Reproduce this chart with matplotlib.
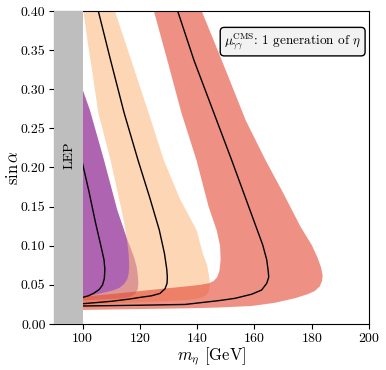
import matplotlib
matplotlib.use("Agg")
import matplotlib.pyplot as plt
from matplotlib.patches import Rectangle

plt.rcParams['font.family'] = 'serif'
plt.rcParams['font.serif'] = ['cmr10', 'DejaVu Serif']
plt.rcParams['mathtext.fontset'] = 'cm'
plt.rcParams['axes.formatter.use_mathtext'] = True
plt.rcParams['axes.unicode_minus'] = False

# ---- data (m_eta [GeV], sin alpha) ----
# purple band (outer boundary; inner boundary hidden below LEP)
p_out_m = [100, 110, 114.5, 117, 118.5, 119.3, 119.5, 119.3, 118.9, 118.0, 116.6, 115.9, 112.1, 107.5, 102.6, 100]
p_out_s = [0.030, 0.032, 0.033, 0.035, 0.039, 0.045, 0.052, 0.062, 0.073, 0.085, 0.099, 0.105, 0.146, 0.2095, 0.273, 0.300]

# peach band
q_in_m = [100, 105, 108.5, 110.7, 112.8, 114.5, 115.6, 116.1, 116.3, 116.1, 115.6, 114.8, 113.6, 109.8, 105.5, 103.5, 101.8, 100.3]
q_in_s = [0.035, 0.038, 0.041, 0.043, 0.046, 0.051, 0.057, 0.064, 0.073, 0.090, 0.105, 0.125, 0.146, 0.209, 0.270, 0.320, 0.360, 0.400]
q_out_m = [100, 110, 123.5, 131, 135.8, 139.5, 141.8, 143.2, 144.0, 144.4, 144.3, 143.5, 142.0, 139.8, 134.0, 128.4, 123.5, 117.0, 111.3]
q_out_s = [0.024, 0.026, 0.0285, 0.0295, 0.0305, 0.032, 0.034, 0.037, 0.041, 0.048, 0.058, 0.075, 0.090, 0.120, 0.160, 0.209, 0.265, 0.337, 0.400]

# salmon band
r_in_m = [100, 112, 125, 136, 141, 144, 145.8, 147.0, 147.8, 148.2, 148.0, 146.8, 144.0, 139.8, 134.5, 129.6, 124.9]
r_in_s = [0.035, 0.039, 0.044, 0.048, 0.050, 0.052, 0.055, 0.060, 0.068, 0.082, 0.100, 0.120, 0.150, 0.209, 0.270, 0.337, 0.400]
r_out_m = [100, 135.8, 147, 159, 167, 174.2, 178.5, 181.0, 182.8, 183.6, 183.8, 183.3, 182.0, 180.0, 176.0, 170.1, 163.8, 157.0, 148.6, 141.6]
r_out_s = [0.018, 0.020, 0.021, 0.023, 0.027, 0.033, 0.038, 0.042, 0.048, 0.055, 0.062, 0.072, 0.085, 0.101, 0.125, 0.167, 0.210, 0.260, 0.337, 0.400]

# central (black) curves
l1_m = [100, 102.0, 103.8, 105.8, 107.0, 107.6, 107.8, 107.5, 106.4, 104.5, 102.2, 100]
l1_s = [0.034, 0.036, 0.039, 0.044, 0.050, 0.058, 0.070, 0.082, 0.100, 0.130, 0.170, 0.205]
l2_m = [100.3, 110, 116.6, 120, 124, 127, 128.8, 129.5, 129.6, 129.4, 128.6, 126.8, 123.5, 119.4, 114.5, 109.8, 105.5]
l2_s = [0.026, 0.029, 0.032, 0.034, 0.036, 0.039, 0.045, 0.052, 0.060, 0.070, 0.090, 0.120, 0.161, 0.209, 0.270, 0.337, 0.400]
l3_m = [100, 120, 135.8, 147.4, 153.2, 159.0, 162.5, 164.3, 165.0, 164.8, 164.3, 162.9, 157.5, 152.1, 145.3, 138.9, 133.2]
l3_s = [0.023, 0.024, 0.025, 0.0298, 0.0328, 0.038, 0.0434, 0.052, 0.060, 0.068, 0.082, 0.101, 0.155, 0.209, 0.275, 0.337, 0.400]

xticks = [100, 120, 140, 160, 180, 200]
yticks = [0.00, 0.05, 0.10, 0.15, 0.20, 0.25, 0.30, 0.35, 0.40]

fig = plt.figure(figsize=(3.86, 3.70), dpi=100)
ax = fig.add_axes([0.1396, 0.1243, 0.8164, 0.8460])


def band(inner_m, inner_s, outer_m, outer_s):
    xs = [90] + list(outer_m) + list(inner_m)[::-1] + [90]
    ys = [outer_s[0]] + list(outer_s) + list(inner_s)[::-1] + [inner_s[0]]
    return xs, ys


# purple
xs = [90] + p_out_m + [90]
ys = [p_out_s[0]] + p_out_s + [p_out_s[-1]]
ax.fill(xs, ys, color='#8e2291', alpha=0.7, lw=0)
# peach
xs, ys = band(q_in_m, q_in_s, q_out_m, q_out_s)
ax.fill(xs, ys, color='#fcbb85', alpha=0.6, lw=0)
# salmon
xs, ys = band(r_in_m, r_in_s, r_out_m, r_out_s)
ax.fill(xs, ys, color='#e34832', alpha=0.6, lw=0)

for m, s in [(l1_m, l1_s), (l2_m, l2_s), (l3_m, l3_s)]:
    ax.plot(m, s, color='k', lw=1.0)

ax.add_patch(Rectangle((90, 0), 10, 0.40, facecolor='#bebebe', edgecolor='none', zorder=3))
ax.text(95.5, 0.216, 'LEP', rotation=90, ha='center', va='center', fontsize=10, zorder=4)

ax.text(0.975, 0.935, r'$\mu_{\gamma\gamma}^{\rm CMS}$: 1 generation of $\eta$',
        transform=ax.transAxes, ha='right', va='top', fontsize=9.5, zorder=5,
        bbox=dict(boxstyle='round,pad=0.3', facecolor='#f2f2f2', edgecolor='k', lw=1.0))

ax.set_xlim(90, 200)
ax.set_ylim(0, 0.40)
ax.set_xticks(xticks)
ax.set_yticks(yticks)
ax.set_yticklabels(['%.2f' % v for v in yticks])
ax.tick_params(labelsize=10, pad=2.5)
ax.set_xlabel(r'$m_\eta$ [GeV]', fontsize=12)
ax.set_ylabel(r'$\sin\alpha$', fontsize=12)
ax.xaxis.set_label_coords(0.5, -0.068)
ax.yaxis.set_label_coords(-0.105, 0.5)

fig.savefig('out.png', dpi=100)
